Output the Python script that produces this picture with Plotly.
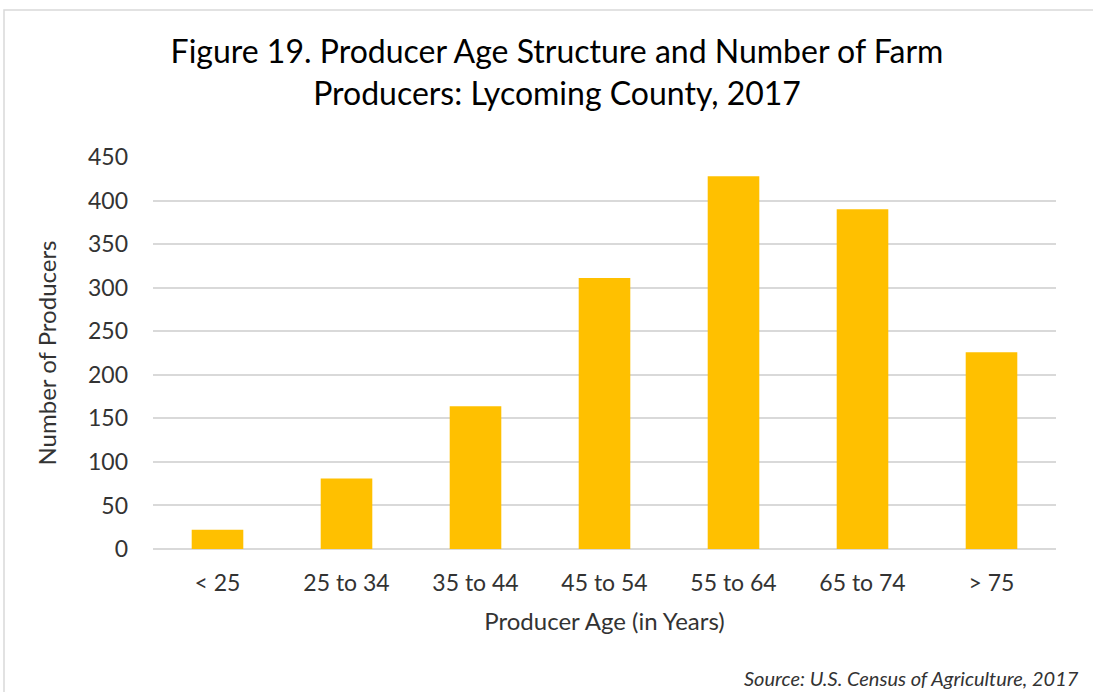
import plotly.graph_objects as go

categories = ["< 25", "25 to 34", "35 to 44", "45 to 54", "55 to 64", "65 to 74", "> 75"]
producers = [22, 81, 164, 311, 428, 390, 226]
y_ticks = [0, 50, 100, 150, 200, 250, 300, 350, 400, 450]

W, H = 1093, 692
L, R, T, B = 153, 37, 157, 143
pw, ph = W - L - R, H - T - B

def px(x):
    return (x - L) / pw

def py(y):
    return (H - B - y) / ph

FONT = "Lato, 'Open Sans', sans-serif"
TXT = "#333333"

fig = go.Figure(go.Bar(
    x=categories, y=producers,
    marker=dict(color="#FFC000", line=dict(width=0)),
))

fig.update_layout(
    width=W, height=H,
    margin=dict(l=L, r=R, t=T, b=B),
    paper_bgcolor="white", plot_bgcolor="white",
    bargap=0.6,
    showlegend=False,
    font=dict(family=FONT, color=TXT),
    title=dict(
        text="Figure 19. Producer Age Structure and Number of Farm<br>Producers: Lycoming County, 2017",
        x=557 / W, xanchor="center", xref="container",
        y=1 - 63 / H, yanchor="middle",
        font=dict(size=32, color="#000000", family=FONT),
    ),
    xaxis=dict(
        tickfont=dict(size=23, color=TXT),
        title=dict(text="Producer Age (in Years)", font=dict(size=24, color=TXT), standoff=18),
        showgrid=False, showline=False, ticks="", ticklabelstandoff=18,
    ),
    yaxis=dict(
        range=[0, 450], tickvals=y_ticks,
        tickfont=dict(size=23, color=TXT),
        title=dict(text="Number of Producers", font=dict(size=24, color=TXT), standoff=24),
        showgrid=True, gridcolor="#d9d9d9", gridwidth=1.5,
        zeroline=True, zerolinecolor="#d9d9d9", zerolinewidth=1.5,
        showline=False, ticks="", ticklabelstandoff=24,
    ),
    shapes=[dict(
        type="rect", xref="paper", yref="paper",
        x0=px(4), x1=px(1098), y0=py(698), y1=py(10),
        line=dict(color="#d9d9d9", width=1.5), fillcolor="rgba(0,0,0,0)", layer="below",
    )],
    annotations=[dict(
        text="<i>Source: U.S. Census of Agriculture, 2017</i>",
        xref="paper", yref="paper", x=px(1081), y=py(678),
        xanchor="right", yanchor="middle", showarrow=False,
        font=dict(size=20, color=TXT, family=FONT),
    )],
)

fig.write_html(
    "out.html",
    config={"displayModeBar": False},
    post_script="document.body.style.margin='0';document.body.style.overflow='hidden';",
)
